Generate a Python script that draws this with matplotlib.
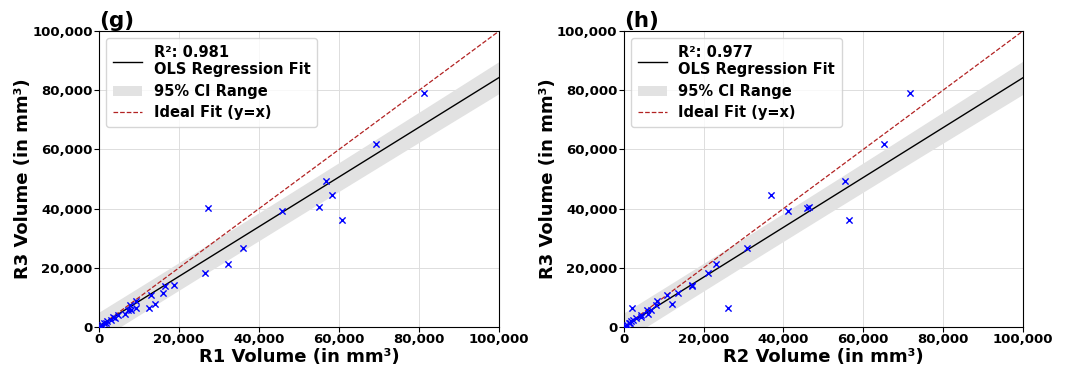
import numpy as np
import matplotlib.pyplot as plt
from matplotlib.ticker import FuncFormatter

plt.rcParams["font.weight"] = "bold"
plt.rcParams["axes.labelweight"] = "bold"
plt.rcParams["axes.titleweight"] = "bold"

# volumes (mm^3)
r3 = [79000, 61900, 49200, 44500, 40600, 40100, 39300, 36200, 26800, 21400,
      18100, 14200, 13900, 11500, 10800, 7900, 6300, 8800, 7600, 6300,
      5900, 5700, 4500, 4000, 2900, 2400, 1900, 1200, 700, 400,
      300, 1500, 3300]
r1 = [81300, 69200, 56700, 58300, 55100, 27200, 45800, 60700, 36100, 32300,
      26500, 18700, 16500, 15900, 12900, 13900, 12600, 9200, 7800, 9200,
      7900, 7300, 6400, 4800, 4000, 3000, 2100, 1200, 700, 300,
      200, 1700, 3600]
r2 = [71600, 65200, 55300, 36900, 46300, 45800, 41200, 56300, 30800, 23000,
      21200, 17000, 17100, 13500, 10800, 12100, 26000, 8400, 8000, 2000,
      6900, 5800, 6000, 4400, 3100, 2300, 1900, 1300, 800, 500,
      300, 1600, 4300]

# fitted line and band
fit_slope = [0.840, 0.842]
fit_intercept = [300, 0]
band_scale = [4600, 4600]   # t * s of the interval

panels = [("(g)", r1, "R1 Volume (in mm³)", "R²: 0.981"),
          ("(h)", r2, "R2 Volume (in mm³)", "R²: 0.977")]

fig = plt.figure(figsize=(10.7, 3.67), dpi=100)
axes = [fig.add_axes([0.0925, 0.109, 0.374, 0.8065]),
        fig.add_axes([0.583, 0.109, 0.373, 0.8065])]

fmt = FuncFormatter(lambda v, p: f"{int(v):,}")
y = np.array(r3, dtype=float)

for i, (ax, (tag, xv, xlabel, r2txt)) in enumerate(zip(axes, panels)):
    x = np.array(xv, dtype=float)
    n = len(x)
    xs = np.linspace(0, 100000, 200)
    yhat = fit_slope[i] * xs + fit_intercept[i]
    sxx = np.sum((x - x.mean()) ** 2)
    half = band_scale[i] * np.sqrt(1 + 1 / n + (xs - x.mean()) ** 2 / sxx)

    ax.grid(True, color="#dddddd", linewidth=0.7)
    ax.set_axisbelow(True)
    ax.plot(xs, yhat, color="black", linewidth=1, label=r2txt + "\nOLS Regression Fit")
    ax.fill_between(xs, yhat - half, yhat + half, color="#e2e2e2",
                    linewidth=0, label="95% CI Range")
    ax.plot([0, 100000], [0, 100000], color="firebrick", linestyle="--", linewidth=0.9,
            label="Ideal Fit (y=x)")
    ax.scatter(x, y, marker="x", color="blue", s=20, linewidths=1.0, zorder=3)

    ax.set_xlim(0, 100000)
    ax.set_ylim(0, 100000)
    ax.set_xticks(range(0, 100001, 20000))
    ax.set_yticks(range(0, 100001, 20000))
    ax.xaxis.set_major_formatter(fmt)
    ax.yaxis.set_major_formatter(fmt)
    ax.tick_params(labelsize=9.5, pad=1)
    ax.set_xlabel(xlabel, fontsize=13, labelpad=1)
    ax.set_ylabel("R3 Volume (in mm³)", fontsize=13, labelpad=0)
    ax.set_title(tag, loc="left", fontsize=15.5, pad=2)
    ax.legend(loc="upper left", prop={"weight": "bold", "size": 10.5},
              handlelength=2.0, labelspacing=0.45, borderpad=0.45)

fig.savefig("out.png", dpi=100)
